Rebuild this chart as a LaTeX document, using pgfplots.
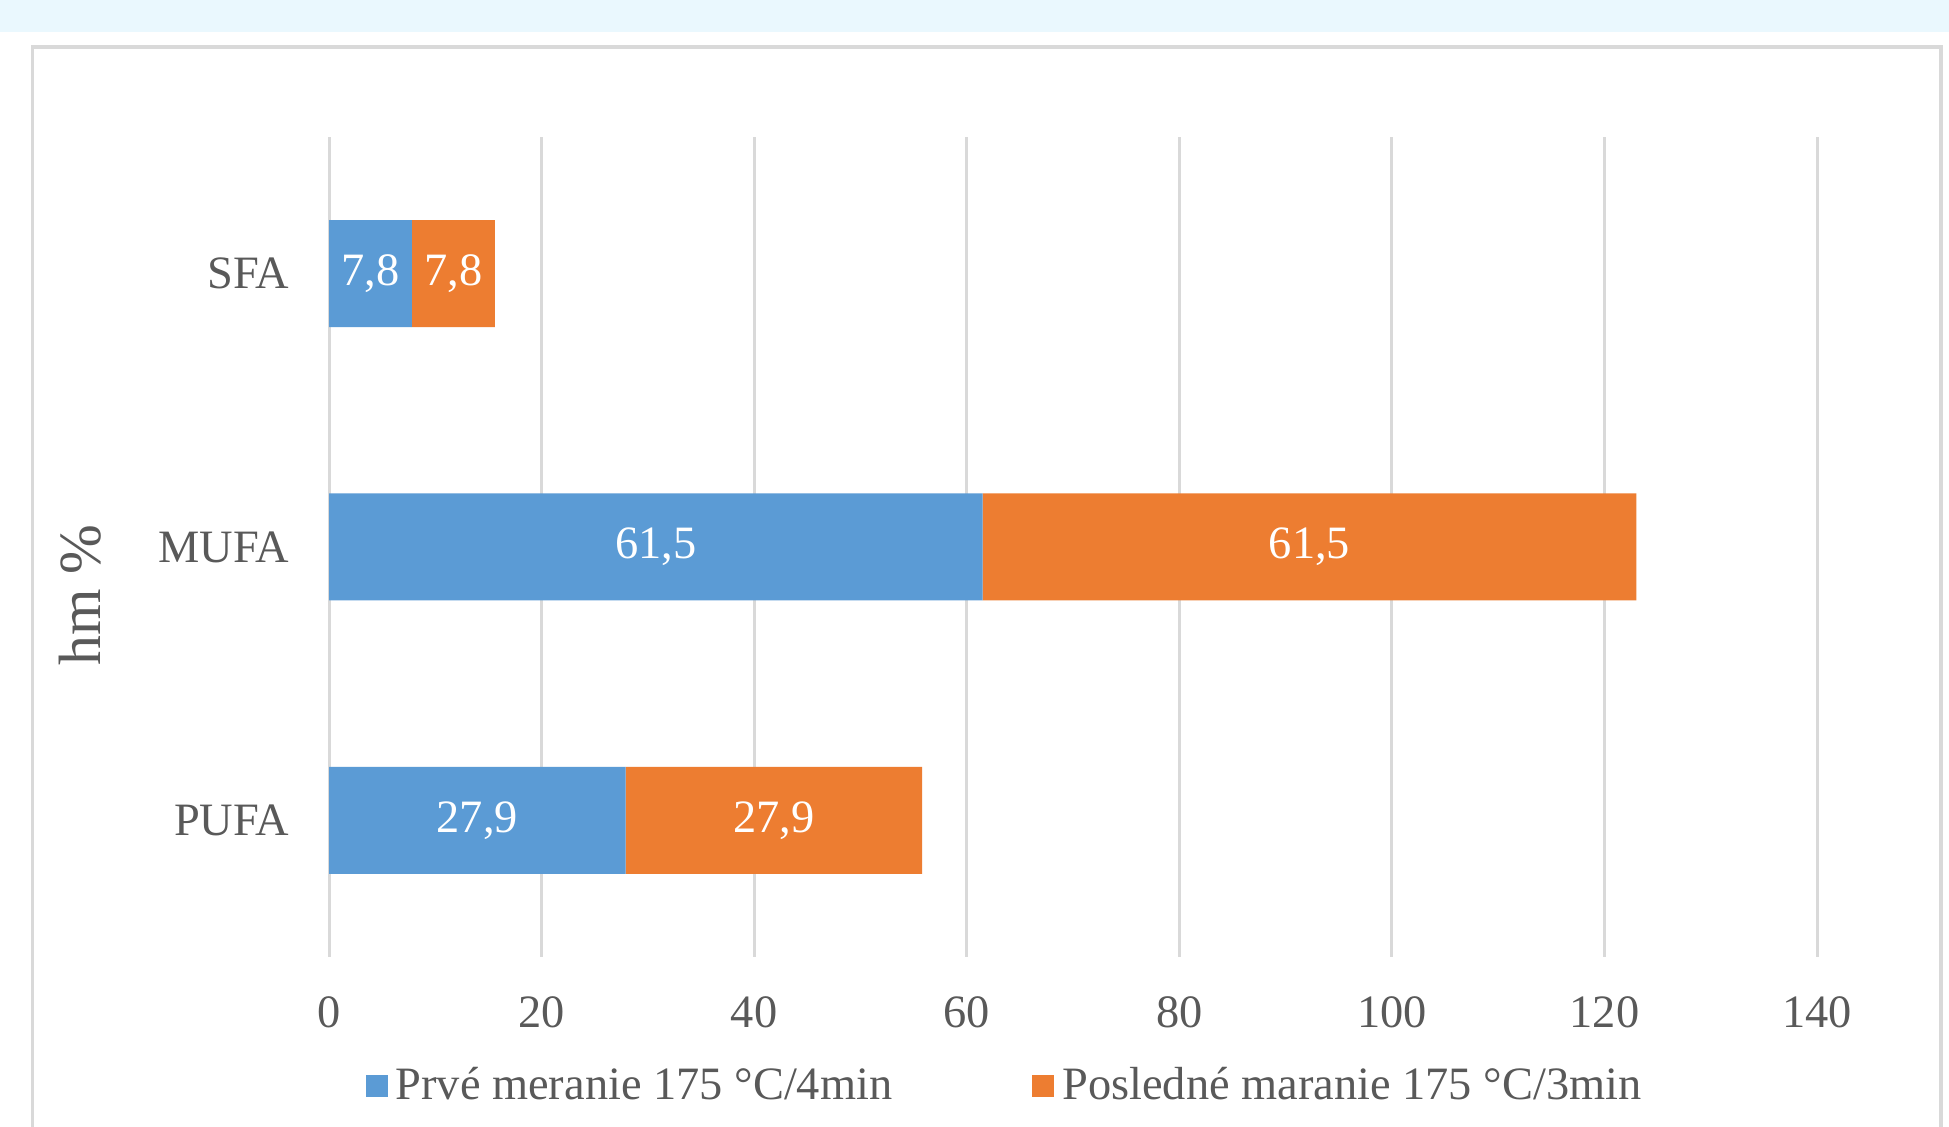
\documentclass[border=0pt]{standalone}
\usepackage{fontspec}
\setmainfont{Liberation Serif}
\usepackage{pgfplots}
\usepackage{pgfplotstable}
\pgfplotsset{compat=1.18}
\definecolor{barblue}{HTML}{5B9BD5}
\definecolor{barorange}{HTML}{ED7D31}
\definecolor{gridgrey}{HTML}{D9D9D9}
\definecolor{textgrey}{HTML}{595959}
\definecolor{bandblue}{HTML}{EAF8FE}
\pgfplotstableread{
y a b
0 27.9 27.9
1 61.5 61.5
2 7.8 7.8
}\data
\begin{document}
\begin{tikzpicture}[x=1cm,y=1cm]
\clip (0,0) rectangle (19.49,11.27);
\fill[white] (0,0) rectangle (19.49,11.27);
\fill[bandblue] (0,10.95) rectangle (19.49,11.27);
\draw[gridgrey, line width=0.04cm] (0.325,-0.5) -- (0.325,10.80) -- (19.41,10.80) -- (19.41,-0.5);
\begin{axis}[
  at={(3.29cm,1.70cm)}, anchor=south west,
  scale only axis, width=14.88cm, height=8.20cm,
  xbar stacked, bar width=1.07cm,
  xmin=0, xmax=140, ymin=-0.5, ymax=2.5,
  xtick={0,20,...,140}, ytick={0,1,2},
  yticklabels={PUFA,MUFA,SFA},
  axis line style={draw=none},
  major tick length=0pt,
  xmajorgrids, ymajorgrids=false,
  grid style={gridgrey, line width=0.03cm},
  /pgf/number format/assume math mode=true,
  tick label style={font=\fontsize{13.2}{15}\selectfont, text=textgrey, inner sep=0pt},
  xticklabel style={anchor=center, yshift=-0.55cm},
  yticklabel style={anchor=east, xshift=-0.39cm},
  ylabel={hm \%},
  ylabel style={at={(axis description cs:-0.1673,0.4415)}, anchor=center, font=\fontsize{17}{20}\selectfont, text=textgrey},
  legend columns=2,
  legend style={at={(axis description cs:0.0242,-0.1573)}, anchor=west, draw=none, fill=none, inner sep=0pt,
    nodes={inner sep=0pt, text=textgrey, font=\fontsize{13.2}{15}\selectfont},
    /tikz/every odd column/.append style={column sep=0.08cm},
    /tikz/every even column/.append style={column sep=1.4cm}},
  nodes near coords,
  every node near coord/.append style={anchor=center, text=white, font=\fontsize{13.2}{15}\selectfont},
]
\addplot[fill=barblue, draw=none,
  legend image code/.code={\fill[barblue] (0cm,-0.11cm) rectangle (0.22cm,0.11cm);},
  visualization depends on={\thisrow{a} \as \myv},
  nodes near coords={\pgfmathprintnumber[use comma,fixed,precision=1,fixed zerofill]{\myv}}
] table[x=a, y=y] {\data};
\addplot[fill=barorange, draw=none,
  legend image code/.code={\fill[barorange] (0cm,-0.11cm) rectangle (0.22cm,0.11cm);},
  visualization depends on={\thisrow{b} \as \myv},
  nodes near coords={\pgfmathprintnumber[use comma,fixed,precision=1,fixed zerofill]{\myv}}
] table[x=b, y=y] {\data};
\legend{Prvé meranie 175 °C/4min, Posledné maranie 175 °C/3min}
\end{axis}
\end{tikzpicture}
\end{document}
